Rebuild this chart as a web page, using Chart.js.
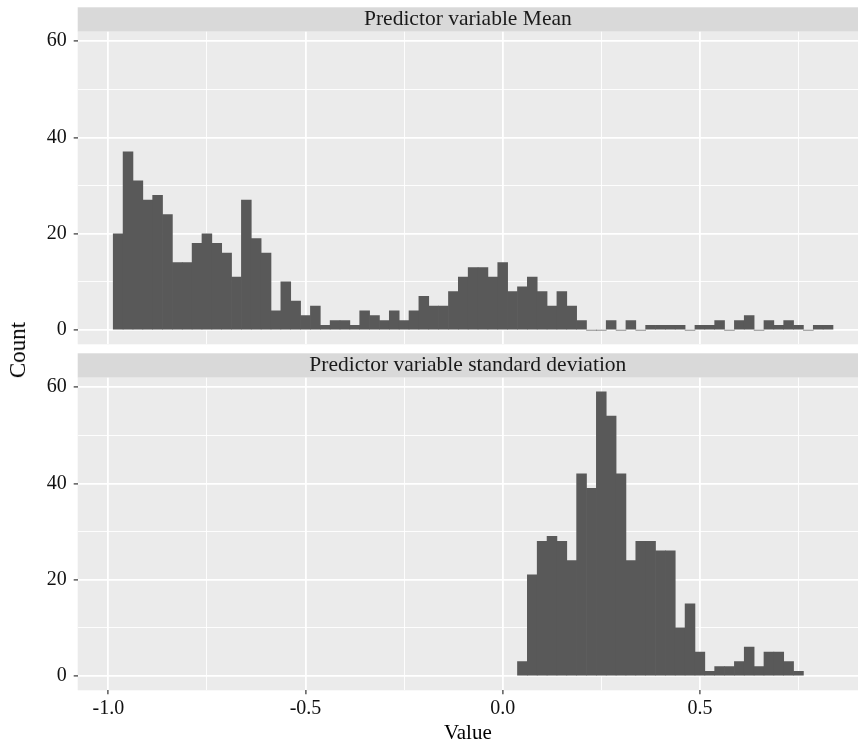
<!DOCTYPE html>
<html>
<head>
<meta charset="utf-8">
<script src="https://cdn.jsdelivr.net/npm/chart.js@4.4.1/dist/chart.umd.min.js"></script>
<style>
html, body { margin: 0; padding: 0; background: #fff; }
#wrap { position: relative; width: 858px; height: 744px; overflow: hidden; }
#top { position: absolute; left: 0; top: 0; }
#bottom { position: absolute; left: 0; top: 345px; }
#ylab { position: absolute; left: 18px; top: 350px; transform: translate(-50%, -50%) rotate(-90deg);
        font: 23px "Liberation Serif"; color: #000; white-space: nowrap; }
</style>
</head>
<body>
<div id="wrap">
  <canvas id="top" width="858" height="345" style="width:858px;height:345px"></canvas>
  <canvas id="bottom" width="858" height="399" style="width:858px;height:399px"></canvas>
  <div id="ylab">Count</div>
</div>
<script>
// bin centres (binwidth 0.025) and counts
var meanBins = [
  -0.975, -0.95, -0.925, -0.9, -0.875, -0.85, -0.825, -0.8, -0.775, -0.75,
  -0.725, -0.7, -0.675, -0.65, -0.625, -0.6, -0.575, -0.55, -0.525, -0.5,
  -0.475, -0.45, -0.425, -0.4, -0.375, -0.35, -0.325, -0.3, -0.275, -0.25,
  -0.225, -0.2, -0.175, -0.15, -0.125, -0.1, -0.075, -0.05, -0.025, 0,
  0.025, 0.05, 0.075, 0.1, 0.125, 0.15, 0.175, 0.2, 0.225, 0.25,
  0.275, 0.3, 0.325, 0.35, 0.375, 0.4, 0.425, 0.45, 0.475, 0.5,
  0.525, 0.55, 0.575, 0.6, 0.625, 0.65, 0.675, 0.7, 0.725, 0.75,
  0.775, 0.8, 0.825
];
var meanCounts = [
  20, 37, 31, 27, 28, 24, 14, 14, 18, 20,
  18, 16, 11, 27, 19, 16, 4, 10, 6, 3,
  5, 1, 2, 2, 1, 4, 3, 2, 4, 2,
  4, 7, 5, 5, 8, 11, 13, 13, 11, 14,
  8, 9, 11, 8, 5, 8, 5, 2, 0, 0,
  2, 0, 2, 0, 1, 1, 1, 1, 0, 1,
  1, 2, 0, 2, 3, 0, 2, 1, 2, 1,
  0, 1, 1
];
var sdBins = [
  0.05, 0.075, 0.1, 0.125, 0.15, 0.175, 0.2, 0.225, 0.25, 0.275,
  0.3, 0.325, 0.35, 0.375, 0.4, 0.425, 0.45, 0.475, 0.5, 0.525,
  0.55, 0.575, 0.6, 0.625, 0.65, 0.675, 0.7, 0.725, 0.75
];
var sdCounts = [
  3, 21, 28, 29, 28, 24, 42, 39, 59, 54,
  42, 24, 28, 28, 26, 26, 10, 15, 5, 1,
  2, 2, 3, 6, 2, 5, 5, 3, 1
];

var xMajor = [-1.0, -0.5, 0.0, 0.5];
var xMinor = [-0.75, -0.25, 0.25, 0.75];
var yMajor = [0, 20, 40, 60];
var yMinor = [10, 30, 50];

var FAMILY = '"Liberation Serif", "Times New Roman", serif';
var FONT = { family: FAMILY, size: 20 };

function isIn(list, v) {
  return list.some(function (m) { return Math.abs(m - v) < 1e-9; });
}
function tickVal(c) {
  return c && c.tick ? c.tick.value : null;
}

// grey strip with facet label + panel background
var stripPlugin = {
  id: 'strip',
  beforeDraw: function (chart, args, opts) {
    var ctx = chart.ctx, a = chart.chartArea;
    ctx.save();
    ctx.fillStyle = '#D9D9D9';
    ctx.fillRect(a.left, a.top - 24.4, a.right - a.left, 24.4);
    ctx.fillStyle = '#EBEBEB';
    ctx.fillRect(a.left, a.top, a.right - a.left, a.bottom - a.top);
    ctx.font = '21.5px "Liberation Serif"';
    ctx.fillStyle = '#1a1a1a';
    ctx.textAlign = 'center';
    ctx.textBaseline = 'middle';
    ctx.fillText(opts.text, (a.left + a.right) / 2, a.top - 12);
    ctx.restore();
  }
};

function makePanel(id, label, bins, counts, showX, padTop, xHeight, padBottom) {
  var points = bins.map(function (b, i) { return { x: b, y: counts[i] }; });
  return new Chart(document.getElementById(id), {
    type: 'bar',
    data: {
      datasets: [{
        data: points,
        backgroundColor: '#595959',
        borderWidth: 0,
        barPercentage: 1.0,
        categoryPercentage: 1.0,
        grouped: false
      }]
    },
    options: {
      responsive: false,
      animation: false,
      layout: { padding: { top: padTop, bottom: padBottom, left: 0, right: 0 } },
      plugins: {
        legend: { display: false },
        tooltip: { enabled: false },
        strip: { text: label }
      },
      scales: {
        x: {
          type: 'linear',
          offset: false,
          min: -1.0776,
          max: 0.9009,
          afterBuildTicks: function (s) {
            s.ticks = xMajor.concat(xMinor).sort(function (a, b) { return a - b; })
              .map(function (v) { return { value: v }; });
          },
          afterFit: function (s) { s.height = xHeight; s.paddingLeft = 0; s.paddingRight = 0; },
          border: { display: false },
          grid: {
            offset: false,
            color: '#ffffff',
            lineWidth: function (c) { return isIn(xMajor, tickVal(c)) ? 1.8 : 0.9; },
            drawTicks: showX,
            tickLength: 4,
            tickWidth: 1.2,
            tickColor: function (c) { return isIn(xMajor, tickVal(c)) ? '#333333' : 'rgba(0,0,0,0)'; }
          },
          ticks: {
            display: showX,
            autoSkip: false,
            maxRotation: 0,
            padding: 2,
            color: '#111',
            font: FONT,
            callback: function (v) { return isIn(xMajor, v) ? v.toFixed(1) : ''; }
          },
          title: {
            display: showX,
            text: 'Value',
            color: '#000',
            font: { family: FAMILY, size: 21, lineHeight: 1.0 },
            padding: { top: 0, bottom: 0 }
          }
        },
        y: {
          type: 'linear',
          min: -2.95,
          max: 61.95,
          afterBuildTicks: function (s) {
            s.ticks = yMajor.concat(yMinor).sort(function (a, b) { return a - b; })
              .map(function (v) { return { value: v }; });
          },
          afterFit: function (s) { s.width = 77.7; s.paddingTop = 0; s.paddingBottom = 0; },
          border: { display: false },
          grid: {
            color: '#ffffff',
            lineWidth: function (c) { return isIn(yMajor, tickVal(c)) ? 1.8 : 0.9; },
            tickLength: 4,
            tickWidth: 1.2,
            tickColor: function (c) { return isIn(yMajor, tickVal(c)) ? '#333333' : 'rgba(0,0,0,0)'; }
          },
          ticks: {
            padding: 7,
            color: '#111',
            font: FONT,
            callback: function (v) { return isIn(yMajor, v) ? String(v) : ''; }
          }
        }
      }
    },
    plugins: [stripPlugin]
  });
}

makePanel('top', 'Predictor variable Mean', meanBins, meanCounts, false, 31.7, 0, 0.7);
makePanel('bottom', 'Predictor variable standard deviation', sdBins, sdCounts, true, 32.7, 53.7, 0);
</script>
</body>
</html>
